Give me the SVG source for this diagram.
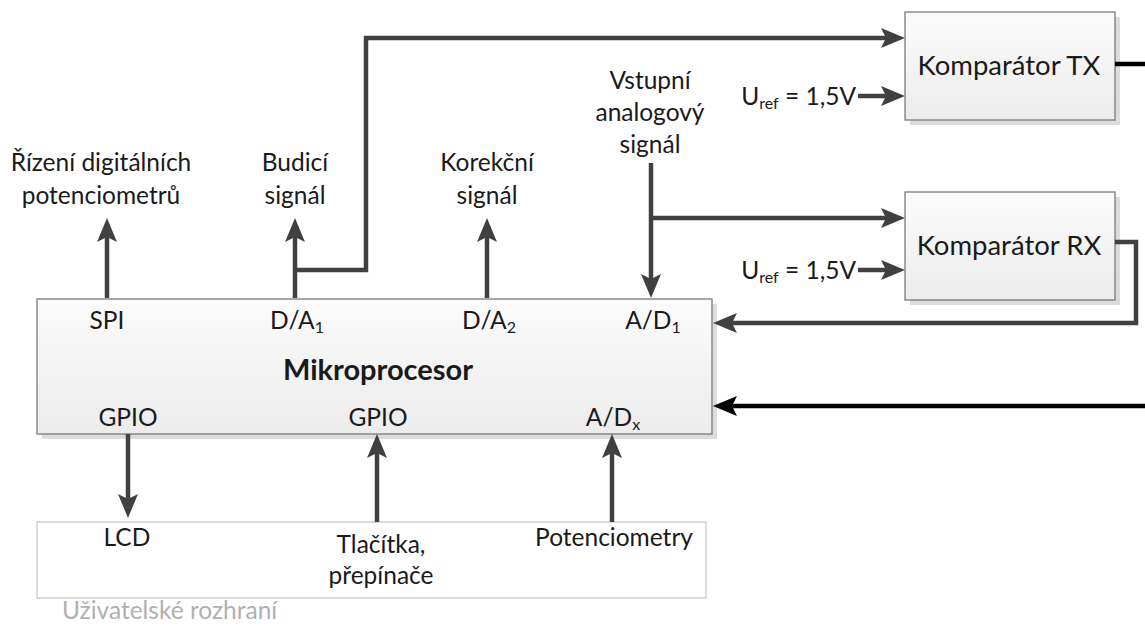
<svg xmlns="http://www.w3.org/2000/svg" width="1145" height="626" viewBox="0 0 1145 626">
<defs>
<linearGradient id="g" x1="0" y1="0" x2="0" y2="1">
<stop offset="0" stop-color="#fbfbfb"/>
<stop offset="1" stop-color="#ececec"/>
</linearGradient>
<marker id="ah" viewBox="0 0 24 20" refX="12" refY="10" markerWidth="24" markerHeight="20" markerUnits="userSpaceOnUse" orient="auto">
<path d="M0,0 L24,10 L0,20 L5,10 z" fill="#404040"/>
</marker>
<marker id="ahk" viewBox="0 0 24 20" refX="12" refY="10" markerWidth="24" markerHeight="20" markerUnits="userSpaceOnUse" orient="auto">
<path d="M0,0 L24,10 L0,20 L5,10 z" fill="#000"/>
</marker>
</defs>
<style>
text{font-family:Lato,"Open Sans","Liberation Sans",sans-serif;fill:#1a1a1a;font-size:24.5px}
.c{text-anchor:middle}
.e{text-anchor:end}
.box{fill:url(#g);stroke:#7a7a7a;stroke-width:1.3}
.sh{fill:#dcdcdc}
.ln{fill:none;stroke:#404040;stroke-width:4.5}
.lk{fill:none;stroke:#000;stroke-width:4.5}
.a{marker-end:url(#ah)}
.ak{marker-end:url(#ahk)}
.big{font-size:27.5px}
.sub{font-size:16px}
.bold{font-size:29px;font-weight:bold}
</style>

<g id="mikroprocesor">
<rect class="sh" x="42" y="304" width="675" height="135"/>
<rect class="box" x="37" y="299" width="675" height="135"/>
<text class="c" x="107" y="329">SPI</text>
<text class="c" x="297" y="329">D/A<tspan class="sub" dy="4">1</tspan></text>
<text class="c" x="489" y="329">D/A<tspan class="sub" dy="4">2</tspan></text>
<text class="c" x="653" y="329">A/D<tspan class="sub" dy="4">1</tspan></text>
<text class="c bold" x="378" y="380">Mikroprocesor</text>
<text class="c" x="128" y="426">GPIO</text>
<text class="c" x="378" y="426">GPIO</text>
<text class="c" x="613" y="426">A/D<tspan class="sub" dy="4">x</tspan></text>
</g>

<g id="komparator-tx">
<rect class="sh" x="910" y="17" width="210" height="108"/>
<rect class="box" x="905" y="12" width="210" height="108"/>
<text class="c big" x="1009" y="75">Komparátor TX</text>
</g>

<g id="komparator-rx">
<rect class="sh" x="910" y="197" width="210" height="108"/>
<rect class="box" x="905" y="192" width="210" height="108"/>
<text class="c big" x="1009" y="255">Komparátor RX</text>
</g>

<g id="uzivatelske-rozhrani">
<rect x="37" y="522" width="669" height="76" fill="#fff" stroke="#c8c8c8" stroke-width="1.3"/>
<text class="c" x="127" y="546">LCD</text>
<text class="c" x="381" y="553">Tlačítka,</text>
<text class="c" x="381" y="584">přepínače</text>
<text class="c" x="614" y="546">Potenciometry</text>
<text x="62" y="619" style="fill:#b0b0b0">Uživatelské rozhraní</text>
</g>

<g id="labels">
<text class="c" x="101" y="171">Řízení digitálních</text>
<text class="c" x="101" y="204">potenciometrů</text>
<text class="c" x="295" y="171">Budicí</text>
<text class="c" x="295" y="204">signál</text>
<text class="c" x="487" y="171">Korekční</text>
<text class="c" x="487" y="204">signál</text>
<text class="c" x="650" y="89">Vstupní</text>
<text class="c" x="650" y="121">analogový</text>
<text class="c" x="650" y="153">signál</text>
<text class="e" x="856" y="105">U<tspan class="sub" dy="4">ref</tspan><tspan dy="-4"> = 1,5V</tspan></text>
<text class="e" x="856" y="279">U<tspan class="sub" dy="4">ref</tspan><tspan dy="-4"> = 1,5V</tspan></text>
</g>

<g id="connectors">
<path class="ln a" d="M107,298 V230"/>
<path class="ln a" d="M295,298 V230"/>
<path class="ln a" d="M295,270 H366 V38 H893"/>
<path class="ln a" d="M487,298 V230"/>
<path class="ln a" d="M651,163 V286"/>
<path class="ln a" d="M651,218 H893"/>
<path class="ln a" d="M858,96 H893"/>
<path class="ln a" d="M858,270 H893"/>
<path class="ln a" d="M1115,242 H1136 V323 H725"/>
<path class="lk" d="M1115,64 H1145"/>
<path class="lk ak" d="M1145,406 H725"/>
<path class="ln a" d="M128,434 V506"/>
<path class="ln a" d="M377,522 V446"/>
<path class="ln a" d="M612,522 V446"/>
</g>
</svg>
